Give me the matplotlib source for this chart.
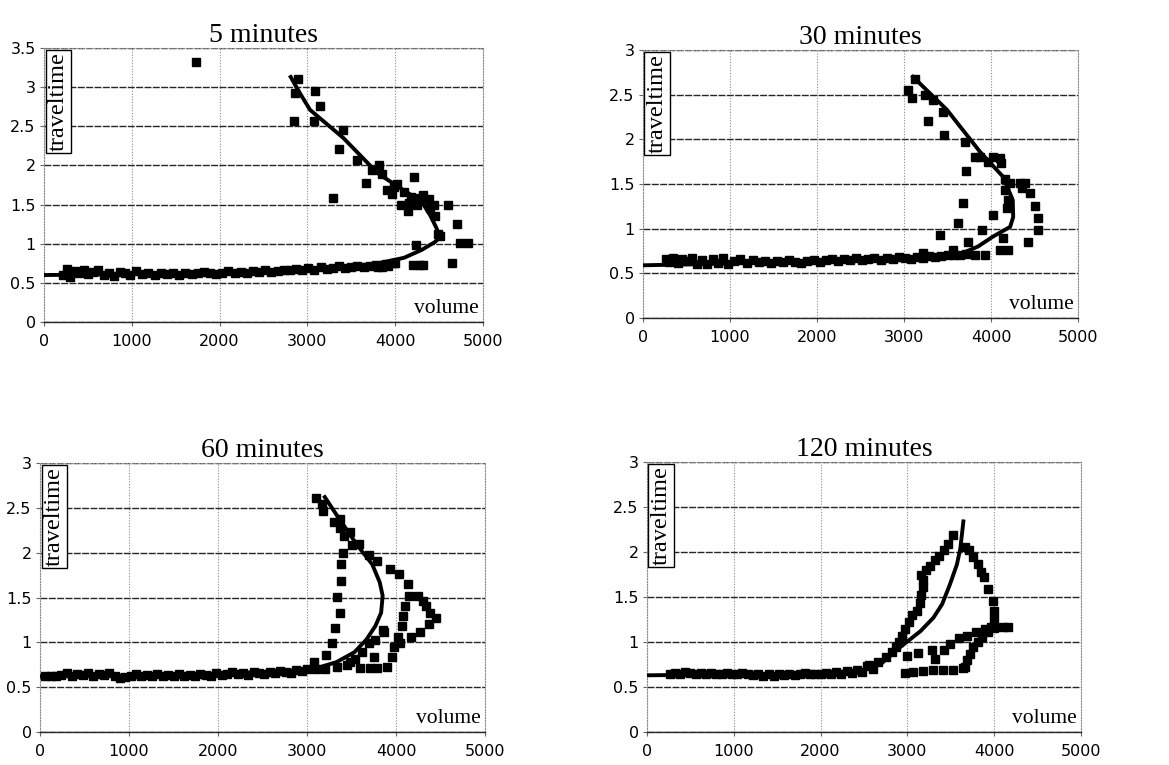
import matplotlib
matplotlib.use("Agg")
import matplotlib.pyplot as plt
from matplotlib.ticker import FormatStrFormatter

# ---------------- data ----------------
titles = ["5 minutes", "30 minutes", "60 minutes", "120 minutes"]
ymax = [3.5, 3.0, 3.0, 3.0]
xticks = [0, 1000, 2000, 3000, 4000, 5000]

# 5 minutes
vol_5 = [220, 260, 300, 350, 400, 450, 500, 560, 620, 680, 740, 800, 860, 920, 980,
         1050, 1120, 1190, 1260, 1330, 1400, 1470, 1540, 1610, 1680, 1750, 1820, 1890,
         1960, 2030, 2100, 2170, 2240, 2310, 2380, 2450, 2520, 2590, 2660, 2730, 2800,
         2870, 2940, 3010, 3080, 3150, 3220, 3290, 3360, 3430, 3500, 3570, 3640, 3710,
         3780, 3850, 3920, 3990,
         1731, 2897, 2863, 2850, 3086, 3140, 3070, 3400, 3365, 3560, 3740, 3810, 3850,
         3670, 3290, 3910, 3960, 4020, 4070, 4145, 4215, 4160, 4250, 4320, 4380, 4440,
         4455, 4485, 4515, 4600, 4700, 4740, 4830, 4650, 4240, 4200, 4320, 4280, 3990,
         4100, 4180, 4280, 4400, 3800, 3900, 4000]
tt_5 = [0.60, 0.68, 0.57, 0.65, 0.62, 0.66, 0.61, 0.64, 0.66, 0.60, 0.63, 0.59, 0.64, 0.62, 0.60,
        0.65, 0.61, 0.62, 0.60, 0.63, 0.61, 0.62, 0.60, 0.63, 0.61, 0.62, 0.64, 0.62,
        0.61, 0.63, 0.65, 0.62, 0.64, 0.63, 0.65, 0.64, 0.66, 0.64, 0.65, 0.67, 0.66,
        0.68, 0.66, 0.69, 0.67, 0.70, 0.68, 0.69, 0.71, 0.69, 0.70, 0.72, 0.70, 0.71,
        0.73, 0.70, 0.72, 0.75,
        3.32, 3.10, 2.92, 2.57, 2.95, 2.76, 2.57, 2.45, 2.21, 2.07, 1.94, 2.01, 1.89,
        1.78, 1.59, 1.69, 1.63, 1.76, 1.49, 1.42, 1.85, 1.52, 1.50, 1.62, 1.57, 1.50,
        1.36, 1.12, 1.10, 1.49, 1.25, 1.01, 1.01, 0.75, 0.98, 0.73, 0.73, 0.73, 1.72,
        1.66, 1.60, 1.58, 1.45, 0.70, 0.74, 0.76]
fit_vol_5 = [0, 1000, 2000, 2500, 3000, 3500, 3850, 4100, 4300, 4450, 4510, 4470, 4400,
             4300, 4100, 3800, 3410, 3030, 2900, 2810]
fit_tt_5 = [0.60, 0.61, 0.63, 0.65, 0.67, 0.71, 0.76, 0.82, 0.92, 1.02, 1.08, 1.20, 1.36,
            1.54, 1.68, 1.90, 2.35, 2.71, 2.95, 3.13]

# 30 minutes
vol_30 = [260, 300, 350, 400, 450, 500, 560, 620, 680, 740, 800, 860, 920, 980, 1050,
          1120, 1190, 1260, 1330, 1400, 1470, 1540, 1610, 1680, 1750, 1820, 1890, 1960,
          2030, 2100, 2170, 2240, 2310, 2380, 2450, 2520, 2590, 2660, 2730, 2800, 2870,
          2940, 3010, 3080, 3150, 3220, 3290, 3360, 3430, 3500, 3570, 3640, 3710,
          3046, 3092, 3126, 3241, 3333, 3276, 3448, 3460, 3701, 3713, 3816, 3874, 3966,
          4023, 4103, 4115, 4161, 4218, 4333, 4391, 4356, 4448, 4506, 4540, 4540, 4425,
          4184, 4161, 4195, 4023, 3897, 4138, 4103, 4195, 3931, 3678, 3621, 3736, 3414,
          3563, 3816, 3218]
tt_30 = [0.66, 0.63, 0.67, 0.62, 0.66, 0.64, 0.67, 0.61, 0.65, 0.60, 0.66, 0.62, 0.67, 0.61, 0.64,
         0.66, 0.62, 0.65, 0.63, 0.64, 0.62, 0.64, 0.63, 0.65, 0.63, 0.62, 0.64, 0.65,
         0.63, 0.65, 0.66, 0.64, 0.66, 0.65, 0.67, 0.65, 0.66, 0.67, 0.65, 0.67, 0.66,
         0.68, 0.67, 0.66, 0.68, 0.67, 0.69, 0.68, 0.69, 0.70, 0.71, 0.70, 0.72,
         2.55, 2.46, 2.68, 2.50, 2.44, 2.20, 2.31, 2.05, 1.97, 1.64, 1.80, 1.80, 1.75,
         1.80, 1.79, 1.73, 1.56, 1.51, 1.51, 1.51, 1.46, 1.40, 1.25, 1.12, 0.99, 0.85,
         1.23, 1.43, 1.32, 1.15, 0.99, 0.90, 0.76, 0.76, 0.71, 1.29, 1.06, 0.85, 0.93,
         0.76, 0.71, 0.73]
fit_vol_30 = [0, 1000, 1950, 2800, 3300, 3680, 3850, 4020, 4220, 4255, 4250, 4140, 3874,
              3494, 3103]
fit_tt_30 = [0.59, 0.61, 0.63, 0.65, 0.67, 0.73, 0.80, 0.91, 1.02, 1.13, 1.32, 1.58, 1.86,
             2.33, 2.70]

# 60 minutes
vol_60 = [60, 120, 180, 240, 300, 360, 420, 480, 540, 600, 660, 720, 780, 840, 900, 960,
          1020, 1080, 1140, 1200, 1260, 1320, 1380, 1440, 1500, 1560, 1620, 1680, 1740,
          1800, 1860, 1920, 1980, 2040, 2100, 2160, 2220, 2280, 2340, 2400, 2460, 2520,
          2580, 2640, 2700, 2760, 2820, 2880, 2940, 3000,
          3100, 3167, 3183, 3300, 3367, 3367, 3417, 3483, 3500, 3583, 3700, 3783,
          3400, 3383, 3383, 3333, 3367, 3317, 3283, 3217, 3083,
          3933, 4033, 4133, 4150, 4100, 4083, 4067, 4017, 3983, 3950, 3900,
          4250, 4300, 4333, 4383, 4450, 4367, 4267, 4167, 4050,
          3867, 3700, 3617, 3750, 3483, 3333, 3446, 3596, 3708, 3783, 3203, 3100, 3539,
          3858, 3764]
tt_60 = [0.62, 0.63, 0.62, 0.64, 0.66, 0.63, 0.65, 0.64, 0.66, 0.63, 0.65, 0.64, 0.66, 0.63,
         0.60, 0.61, 0.63, 0.65, 0.62, 0.64, 0.63, 0.65, 0.62, 0.64, 0.63, 0.65, 0.63, 0.64,
         0.62, 0.65, 0.64, 0.63, 0.66, 0.64, 0.65, 0.67, 0.65, 0.66, 0.64, 0.67, 0.66, 0.65,
         0.67, 0.66, 0.68, 0.67, 0.66, 0.69, 0.68, 0.70,
         2.61, 2.54, 2.46, 2.34, 2.38, 2.27, 2.19, 2.23, 2.08, 2.10, 1.97, 1.91,
         2.00, 1.87, 1.68, 1.51, 1.33, 1.16, 0.99, 0.86, 0.78,
         1.82, 1.76, 1.65, 1.52, 1.40, 1.29, 1.18, 1.06, 0.95, 0.84, 0.73,
         1.52, 1.46, 1.40, 1.33, 1.27, 1.20, 1.12, 1.06, 0.99,
         1.12, 0.99, 0.89, 0.84, 0.78, 0.73, 0.75, 0.71, 0.71, 0.71, 0.70, 0.70, 0.81,
         1.14, 1.03]
fit_vol_60 = [0, 1000, 2000, 2800, 3100, 3333, 3533, 3667, 3767, 3833, 3850, 3817, 3733,
              3567, 3333, 3200]
fit_tt_60 = [0.62, 0.63, 0.65, 0.68, 0.71, 0.78, 0.89, 1.03, 1.18, 1.33, 1.52, 1.67, 1.87,
             2.08, 2.42, 2.62]

# 120 minutes
vol_120 = [260, 320, 380, 440, 500, 560, 620, 680, 740, 800, 860, 920, 980, 1040, 1100,
           1160, 1220, 1280, 1340, 1400, 1460, 1520, 1580, 1640, 1700, 1760, 1820, 1880,
           1940, 2000, 2060, 2120, 2180, 2240, 2300, 2360, 2420, 2480, 2540, 2600,
           2562, 2664, 2750, 2818, 2870, 2904, 2938, 2973, 3024, 3058, 3110, 3144, 3161,
           3178, 3178, 3161, 3212, 3264, 3315, 3366, 3418, 3469, 3521,
           3658, 3709, 3760, 3812, 3846, 3880, 3932, 3983, 4000, 4000, 3966,
           3932, 3863, 3812, 3760, 3726, 3692, 3658,
           2974, 3070, 3185, 3300, 3415, 3530, 3646,
           2990, 3127, 3281,
           3315, 3418, 3486, 3589, 3692, 3795, 3897, 4000, 4103, 4154]
tt_120 = [0.64, 0.66, 0.65, 0.67, 0.66, 0.65, 0.66, 0.64, 0.66, 0.65, 0.64, 0.66, 0.65, 0.64,
          0.66, 0.65, 0.63, 0.65, 0.62, 0.64, 0.62, 0.64, 0.63, 0.65, 0.63, 0.64, 0.66, 0.64,
          0.65, 0.64, 0.66, 0.65, 0.67, 0.65, 0.68, 0.66, 0.69, 0.67, 0.73, 0.70,
          0.74, 0.78, 0.83, 0.89, 0.94, 1.00, 1.07, 1.15, 1.22, 1.30, 1.35, 1.43, 1.52,
          1.61, 1.69, 1.74, 1.80, 1.85, 1.91, 1.96, 2.02, 2.09, 2.19,
          2.06, 2.02, 1.94, 1.87, 1.78, 1.72, 1.59, 1.46, 1.35, 1.26, 1.17,
          1.11, 1.06, 1.00, 0.94, 0.87, 0.80, 0.72,
          0.66, 0.67, 0.68, 0.69, 0.69, 0.69, 0.71,
          0.85, 0.88, 0.91,
          0.81, 0.91, 0.98, 1.04, 1.07, 1.11, 1.15, 1.16, 1.17, 1.17]
fit_vol_120 = [0, 1000, 2000, 2500, 2700, 2900, 3150, 3300, 3400, 3490, 3570, 3610, 3645]
fit_tt_120 = [0.63, 0.64, 0.65, 0.69, 0.76, 0.93, 1.12, 1.27, 1.42, 1.64, 1.86, 2.04, 2.34]

panels = [
    (vol_5, tt_5, fit_vol_5, fit_tt_5),
    (vol_30, tt_30, fit_vol_30, fit_tt_30),
    (vol_60, tt_60, fit_vol_60, fit_tt_60),
    (vol_120, tt_120, fit_vol_120, fit_tt_120),
]

# axes boxes in pixels: left, right, top, bottom
W, H = 1169, 765
boxes = [(44, 483, 48, 322), (643, 1078, 50, 318), (40, 485, 463, 732), (647, 1081, 462, 732)]

serif = "Liberation Serif"

fig = plt.figure(figsize=(W / 100, H / 100), dpi=100)
fig.patch.set_facecolor("white")

for i, (vx, vy, fx, fy) in enumerate(panels):
    l, r, t, b = boxes[i]
    ax = fig.add_axes([l / W, (H - b) / H, (r - l) / W, (b - t) / H])

    ax.set_xlim(0, 5000)
    ax.set_ylim(0, ymax[i])
    ax.set_xticks(xticks)
    ax.set_yticks([k * 0.5 for k in range(int(ymax[i] / 0.5) + 1)])
    ax.yaxis.set_major_formatter(FormatStrFormatter("%g"))

    # grid: dark horizontal, light dotted vertical
    ax.grid(axis="y", color="0.15", linestyle=(0, (5, 1)), linewidth=1.0)
    ax.grid(axis="x", color="0.55", linestyle=(0, (1, 1.5)), linewidth=0.8)
    ax.set_axisbelow(True)

    for side in ["top", "right", "left"]:
        ax.spines[side].set_color("0.55")
        ax.spines[side].set_linestyle((0, (1, 1.5)))
        ax.spines[side].set_linewidth(0.8)
    ax.spines["bottom"].set_color("0.15")
    ax.spines["bottom"].set_linestyle((0, (5, 1)))
    ax.spines["bottom"].set_linewidth(1.0)

    ax.tick_params(axis="both", direction="out", length=3, width=0.8, color="0.4",
                   labelsize=11.5, labelcolor="black")
    ax.tick_params(axis="x", pad=6)
    ax.tick_params(axis="y", pad=3)

    ax.plot(vx, vy, linestyle="none", marker="s", markersize=5.8, color="black", zorder=3)
    ax.plot(fx, fy, color="black", linewidth=2.8, zorder=4)

    ax.set_title(titles[i], fontsize=20, family=serif, pad=4)
    ax.text(0.009, 0.985, "traveltime", rotation=90, ha="left", va="top",
            transform=ax.transAxes, fontsize=17.5, family=serif, zorder=5,
            bbox=dict(boxstyle="square,pad=0.1", fc="white", ec="black", lw=1))
    ax.text(0.99, 0.015, "volume", ha="right", va="bottom", transform=ax.transAxes,
            fontsize=15.5, family=serif, zorder=5,
            bbox=dict(boxstyle="square,pad=0.05", fc="white", ec="none"))

fig.savefig("out.png", dpi=100)
